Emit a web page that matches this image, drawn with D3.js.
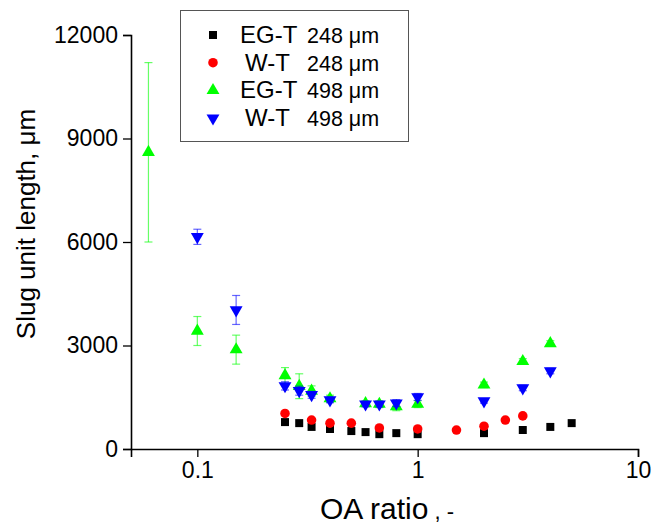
<!DOCTYPE html>
<html>
<head>
<meta charset="utf-8">
<script src="https://cdn.jsdelivr.net/npm/d3@7"></script>
<style>
  body { margin: 0; background: #fff; }
  svg text { font-family: Arial, "Liberation Sans", sans-serif; fill: #000; }
</style>
</head>
<body>
<div id="chart"></div>
<script>
// OA ratio / slug unit length (um)
let ratioEG248 = [0.25, 0.29, 0.33, 0.4, 0.5, 0.58, 0.67, 0.8, 1.0, 2, 3, 4, 5];
let lenEG248   = [780, 750, 640, 580, 520, 490, 430, 460, 430, 460, 550, 640, 750];

let ratioW248 = [0.25, 0.33, 0.4, 0.5, 0.67, 1.0, 1.5, 2, 2.5, 3];
let lenW248   = [1030, 840, 750, 750, 610, 580, 550, 660, 840, 960];

let ratioEG498 = [0.06, 0.1, 0.15, 0.25, 0.29, 0.33, 0.4, 0.58, 0.67, 0.8, 1.0, 2, 3, 4];
let lenEG498   = [8600, 3420, 2880, 2130, 1820, 1680, 1460, 1320, 1300, 1230, 1300, 1860, 2540, 3060];
let errEG498   = [2600, 420, 420, 230, 360, 150, 100, 80, 100, 120, 100, 80, 80, 80];

let ratioW498 = [0.1, 0.15, 0.25, 0.29, 0.33, 0.4, 0.58, 0.67, 0.8, 1.0, 2, 3, 4];
let lenW498   = [6150, 4030, 1830, 1690, 1570, 1420, 1300, 1300, 1330, 1510, 1390, 1770, 2260];
let errW498   = [220, 420, 120, 130, 100, 80, 80, 80, 100, 100, 60, 80, 80];

let xTicks = [0.1, 1, 10];
let yTicks = [0, 3000, 6000, 9000, 12000];

let width = 656, height = 527;
let margin = {top: 35, right: 18, bottom: 78, left: 131};

let svg = d3.select("#chart").append("svg")
    .attr("width", width)
    .attr("height", height);

let x = d3.scaleLog().domain([0.05, 10]).range([margin.left, width - margin.right]);
let y = d3.scaleLinear().domain([0, 12000]).range([height - margin.bottom, margin.top]);

// minor ticks
let xMinor = [];
[0.01, 0.1, 1].forEach(dec => {
    for (let k = 2; k <= 9; k++) {
        let v = dec * k;
        if (v >= 0.05 && v <= 10) xMinor.push(v);
    }
});
let yMinor = [1500, 4500, 7500, 10500];

let xAxisG = svg.append("g")
    .attr("transform", "translate(0," + y(0) + ")");
xAxisG.call(d3.axisBottom(x).tickValues(xMinor).tickSize(5).tickFormat(""));
xAxisG.call(d3.axisBottom(x).tickValues(xTicks).tickSize(8).tickPadding(5).tickFormat(d3.format("")));

let yAxisG = svg.append("g")
    .attr("transform", "translate(" + x(0.05) + ",0)");
yAxisG.call(d3.axisLeft(y).tickValues(yMinor).tickSize(5).tickFormat(""));
yAxisG.call(d3.axisLeft(y).tickValues(yTicks).tickSize(8).tickPadding(5).tickFormat(d3.format("d")));

svg.selectAll(".domain").attr("stroke", "#000").attr("stroke-width", 1.6);
svg.selectAll(".tick line").attr("stroke", "#000").attr("stroke-width", 1.3);
svg.selectAll(".tick text")
    .style("font-size", "23px")
    .style("font-family", "Arial, 'Liberation Sans', sans-serif")
    .attr("fill", "#000");

// axis titles
svg.append("text")
    .attr("x", 320)
    .attr("y", 519)
    .style("font-size", "30px")
    .text("OA ratio")
    .append("tspan")
    .style("font-size", "22px")
    .text(" , -");

let yTitle = svg.append("text")
    .attr("transform", "translate(35,224) rotate(-90)")
    .attr("text-anchor", "middle")
    .style("font-size", "26px");
yTitle.append("tspan").text("Slug unit length, ");
yTitle.append("tspan").text("\u03bcm");

// series
let series = [
    {name: "EG-T", size: "248", xs: ratioEG248, ys: lenEG248, errs: null, color: "#000000", shape: "square"},
    {name: "W-T", size: "248", xs: ratioW248, ys: lenW248, errs: null, color: "#ff0000", shape: "circle"},
    {name: "EG-T", size: "498", xs: ratioEG498, ys: lenEG498, errs: errEG498, color: "#00ff00", shape: "up"},
    {name: "W-T", size: "498", xs: ratioW498, ys: lenW498, errs: errW498, color: "#0000ff", shape: "down"}
];

function symbolPath(shape) {
    if (shape === "square") return d3.symbol().type(d3.symbolSquare).size(64)();
    if (shape === "circle") return d3.symbol().type(d3.symbolCircle).size(72)();
    return d3.symbol().type(d3.symbolTriangle).size(72)();
}

series.forEach(s => {
    let pts = s.xs.map((v, i) => ({x: v, y: s.ys[i], e: s.errs ? s.errs[i] : 0}));
    let g = svg.append("g");

    if (s.errs) {
        let eb = g.selectAll(".err").data(pts).enter().append("g")
            .attr("stroke", s.color)
            .attr("stroke-opacity", 0.6)
            .attr("stroke-width", 1.2);
        eb.append("line")
            .attr("x1", d => x(d.x)).attr("x2", d => x(d.x))
            .attr("y1", d => y(d.y - d.e)).attr("y2", d => y(d.y + d.e));
        eb.append("line")
            .attr("x1", d => x(d.x) - 4).attr("x2", d => x(d.x) + 4)
            .attr("y1", d => y(d.y + d.e)).attr("y2", d => y(d.y + d.e));
        eb.append("line")
            .attr("x1", d => x(d.x) - 4).attr("x2", d => x(d.x) + 4)
            .attr("y1", d => y(d.y - d.e)).attr("y2", d => y(d.y - d.e));
    }

    g.selectAll(".pt").data(pts).enter().append("path")
        .attr("d", symbolPath(s.shape))
        .attr("fill", s.color)
        .attr("transform", d => "translate(" + x(d.x) + "," + y(d.y) + ")" + (s.shape === "down" ? " rotate(180)" : ""));
});

// legend
let legend = svg.append("g");
legend.append("rect")
    .attr("x", 180.5).attr("y", 10.5)
    .attr("width", 228).attr("height", 131)
    .attr("fill", "#fff")
    .attr("stroke", "#555")
    .attr("stroke-width", 1);

series.forEach((s, i) => {
    let ly = 35 + i * 27.7;
    legend.append("path")
        .attr("d", symbolPath(s.shape))
        .attr("fill", s.color)
        .attr("transform", "translate(213," + ly + ")" + (s.shape === "down" ? " rotate(180)" : ""));
    legend.append("text")
        .attr("x", s.name === "EG-T" ? 240 : 245)
        .attr("y", ly + 8)
        .style("font-size", "24px")
        .text(s.name);
    let t = legend.append("text")
        .attr("x", 307)
        .attr("y", ly + 8)
        .style("font-size", "21.5px");
    t.append("tspan").text(s.size + " ");
    t.append("tspan").text("\u03bcm");
});
</script>
</body>
</html>
